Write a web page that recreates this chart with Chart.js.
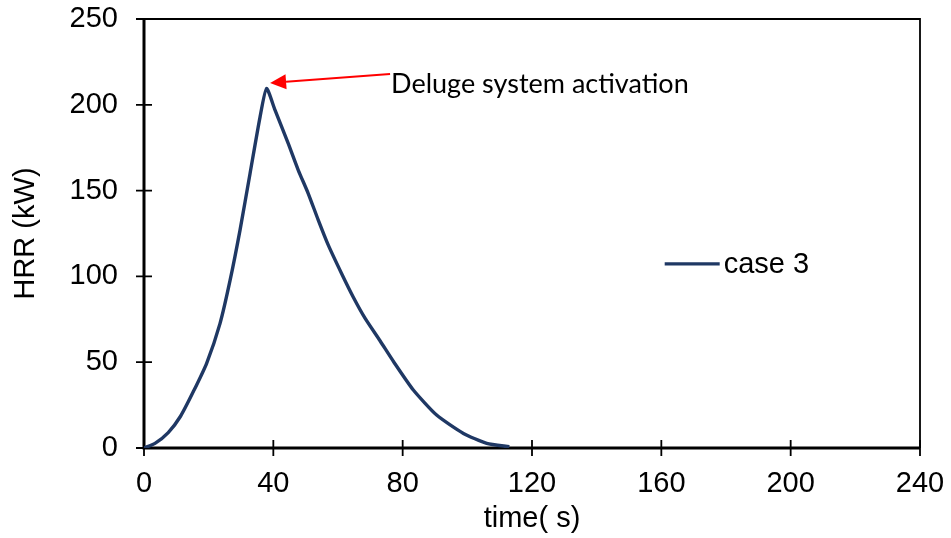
<!DOCTYPE html>
<html><head><meta charset="utf-8">
<script src="https://cdn.jsdelivr.net/npm/chart.js@4/dist/chart.umd.min.js"></script>
<style>html,body{margin:0;padding:0;background:#fff}#wrap{width:951px;height:538px}</style>
</head><body><div id="wrap"><canvas id="c" width="951" height="538"></canvas></div>
<script>
// ---- data ----
const timeS = [0, 3.4, 7.5, 11.3, 15.3, 19.4, 23.5, 26.6, 29.7, 32.8, 35.9, 37.9, 40.5, 44.6, 47.7, 50.8, 53.9, 57, 61.1, 64.7, 68.4, 73, 77.3, 83.3, 90.5, 98.8, 106, 113];
const hrrKW = [0, 2.7, 9, 18.5, 33, 49.5, 72.5, 97.5, 127, 160, 193, 209.5, 197, 177.5, 162, 148.3, 132.8, 118.2, 101.7, 88, 75.5, 62.5, 50, 33.8, 19.2, 8.5, 2.7, 0.7];
const seriesName = 'case 3';
const xTicks = [0, 40, 80, 120, 160, 200, 240];
const yTicks = [0, 50, 100, 150, 200, 250];
const xTitle = 'time( s)';
const yTitle = 'HRR (kW)';
const noteText = 'Deluge system activation';
const noteFrom = [76.1, 217.9];   // arrow tail (time, HRR)
const noteTip = [39.0, 212.7];    // arrow head (time, HRR)

const points = timeS.map((t, i) => ({x: t, y: hrrKW[i]}));
const lineColor = '#1F3864';
const tickFont = {family: "'Liberation Sans', Arial, sans-serif", size: 29};

const framePlugin = {
  id: 'frame',
  beforeDatasetsDraw(chart) {
    const {ctx, chartArea: a, scales: {x, y}} = chart;
    ctx.save();
    ctx.strokeStyle = '#000';
    ctx.lineWidth = 1.8;
    ctx.beginPath();
    ctx.moveTo(a.left, a.top); ctx.lineTo(a.right, a.top); ctx.lineTo(a.right, a.bottom);
    ctx.stroke();
    ctx.lineWidth = 1.8;
    ctx.beginPath();
    xTicks.forEach(v => { const p = x.getPixelForValue(v); ctx.moveTo(p, a.bottom - 8); ctx.lineTo(p, a.bottom + 8); });
    yTicks.forEach(v => { const p = y.getPixelForValue(v); ctx.moveTo(a.left - 8, p); ctx.lineTo(a.left + 8, p); });
    ctx.stroke();
    ctx.lineWidth = 3;
    ctx.beginPath();
    ctx.moveTo(a.left, a.top); ctx.lineTo(a.left, a.bottom); ctx.lineTo(a.right, a.bottom);
    ctx.stroke();
    ctx.restore();
  },
  afterDraw(chart) {
    const {ctx, chartArea: a, scales: {x, y}} = chart;
    ctx.save();
    // legend inside plot
    const lx = a.left + 0.671 * (a.right - a.left);
    const ly = a.top + 0.571 * (a.bottom - a.top);
    ctx.strokeStyle = lineColor; ctx.lineWidth = 3.2;
    ctx.beginPath(); ctx.moveTo(lx, ly); ctx.lineTo(lx + 55, ly); ctx.stroke();
    ctx.fillStyle = '#000';
    ctx.font = "29px 'Liberation Sans', Arial, sans-serif";
    ctx.textBaseline = 'middle'; ctx.textAlign = 'left';
    ctx.fillText(chart.data.datasets[0].label, lx + 59, ly + 1);
    // annotation arrow
    const x0 = x.getPixelForValue(noteFrom[0]), y0 = y.getPixelForValue(noteFrom[1]);
    const x1 = x.getPixelForValue(noteTip[0]), y1 = y.getPixelForValue(noteTip[1]);
    const ang = Math.atan2(y1 - y0, x1 - x0);
    const hl = 16, hw = 7.5;
    const bx = x1 - hl * Math.cos(ang), by = y1 - hl * Math.sin(ang);
    ctx.strokeStyle = '#FF0000'; ctx.fillStyle = '#FF0000'; ctx.lineWidth = 2;
    ctx.beginPath(); ctx.moveTo(x0, y0); ctx.lineTo(bx, by); ctx.stroke();
    ctx.beginPath();
    ctx.moveTo(x1, y1);
    ctx.lineTo(bx + hw * Math.sin(ang), by - hw * Math.cos(ang));
    ctx.lineTo(bx - hw * Math.sin(ang), by + hw * Math.cos(ang));
    ctx.closePath(); ctx.fill();
    ctx.fillStyle = '#000';
    ctx.font = "27px Lato, 'Open Sans', sans-serif";
    ctx.textBaseline = 'alphabetic';
    ctx.fillText(noteText, x0 + 1, y0 + 18.5);
    ctx.restore();
  }
};

new Chart(document.getElementById('c'), {
  type: 'scatter',
  data: {datasets: [{
    label: seriesName, data: points, showLine: true,
    borderColor: lineColor, backgroundColor: lineColor, borderWidth: 3.4,
    pointRadius: 0, tension: 0.2, fill: false
  }]},
  options: {
    responsive: false, animation: false, devicePixelRatio: 1,
    layout: {padding: {top: 19, right: 31, left: 0, bottom: 0}},
    plugins: {legend: {display: false}, tooltip: {enabled: false}},
    scales: {
      x: {
        type: 'linear', min: 0, max: 240,
        afterBuildTicks: s => { s.ticks = xTicks.map(v => ({value: v})); },
        afterFit: s => { s.height = 90; s.paddingLeft = 0; s.paddingRight = 0; },
        grid: {display: false}, border: {display: false},
        ticks: {font: tickFont, color: '#000', padding: 11, maxRotation: 0},
        title: {display: true, text: xTitle, font: tickFont, color: '#000', padding: {top: 0, bottom: 2}}
      },
      y: {
        type: 'linear', min: 0, max: 250,
        afterBuildTicks: s => { s.ticks = yTicks.map(v => ({value: v})); },
        afterFit: s => { s.width = 144; s.paddingTop = 0; s.paddingBottom = 0; },
        grid: {display: false}, border: {display: false},
        ticks: {font: tickFont, color: '#000', padding: 18},
        title: {display: true, text: yTitle, font: tickFont, color: '#000', padding: {top: 9, bottom: 0}}
      }
    }
  },
  plugins: [framePlugin]
});
</script>
</body></html>
